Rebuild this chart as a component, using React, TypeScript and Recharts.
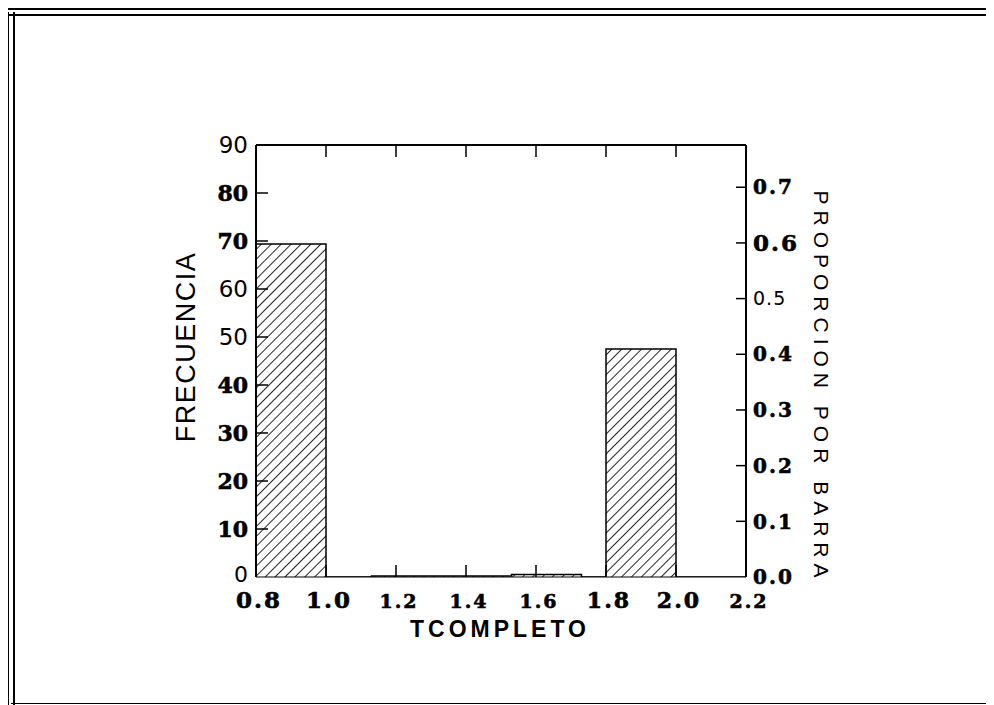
import { ComposedChart, Area, Line, XAxis, YAxis } from "recharts";

// Histogram of TCOMPLETO: left edge of each step and its frequency
const binStarts = [0.8, 1.0, 1.13, 1.53, 1.73, 1.8, 2.0, 2.2];
const frequencies = [69.4, 0, 0.2, 0.5, 0, 47.5, 0, 0];
const totalObs = 116;

const xTicks = [0.8, 1.0, 1.2, 1.4, 1.6, 1.8, 2.0, 2.2];
const topTicks = [1.0, 1.2, 1.4, 1.6, 1.8, 2.0];
const freqTicks = [0, 10, 20, 30, 40, 50, 60, 70, 80, 90];
const propTicks = [0, 0.1, 0.2, 0.3, 0.4, 0.5, 0.6, 0.7];

const chartData = binStarts.map((x, i) => ({
  x,
  f: frequencies[i],
  p: frequencies[i] / totalObs,
}));

// ── fonts of the scanned page (mixed typefaces) ──
const SERIF = "'DejaVu Serif', serif";
const SANS = "'DejaVu Sans', sans-serif";
const TITLE = "'Liberation Sans', Arial, sans-serif";

const sansFreq = [90, 60, 50, 0];
const sansProp = [0.5];
const bigX = [0.8, 1.0];
const midX = [1.8, 2.0];

function FreqTick({ x, y, payload }: any) {
  const v = payload.value;
  const sans = sansFreq.includes(v);
  const fs = v === 0 ? 22 : sans ? 23 : 22;
  const inner = v !== 0 && v !== 90;
  // the zero label sits a little high so it clears the x labels
  const baseline = v === 0 ? y + 5 : y + fs * 0.36;
  return (
    <g>
      {inner && <line x1={x} y1={y} x2={x + 12} y2={y} stroke="#000" strokeWidth={1.5} />}
      <text
        x={x - 8}
        y={baseline}
        textAnchor="end"
        fontFamily={sans ? SANS : SERIF}
        fontWeight={sans ? 400 : 700}
        fontSize={fs}
        fill="#000"
        stroke={sans ? "none" : "#000"}
        strokeWidth={0.6}
      >
        {v}
      </text>
    </g>
  );
}

function PropTick({ x, y, payload }: any) {
  const v = payload.value;
  const sans = sansProp.includes(v);
  const fs = sans ? 19 : v === 0.6 ? 23 : 20;
  return (
    <g>
      {v !== 0 && <line x1={x - 10} y1={y} x2={x} y2={y} stroke="#000" strokeWidth={1.5} />}
      <text
        x={x + 7}
        y={y + fs * 0.36}
        textAnchor="start"
        fontFamily={sans ? SANS : SERIF}
        fontWeight={sans ? 400 : 700}
        fontSize={fs}
        letterSpacing={sans ? 1 : 2}
        fill="#000"
        stroke={sans ? "none" : "#000"}
        strokeWidth={0.6}
      >
        {v.toFixed(1)}
      </text>
    </g>
  );
}

function BottomTick({ x, y, payload }: any) {
  const v = payload.value;
  const fs = bigX.includes(v) ? 23 : midX.includes(v) ? 22 : 19;
  const inner = v > 0.85 && v < 2.15;
  return (
    <g>
      {inner && <line x1={x} y1={y} x2={x} y2={y - 12} stroke="#000" strokeWidth={1.5} />}
      <text
        x={x + 3}
        y={y + 31}
        textAnchor="middle"
        fontFamily={SERIF}
        fontWeight={700}
        fontSize={fs}
        letterSpacing={2}
        fill="#000"
        stroke="#000"
        strokeWidth={0.6}
      >
        {v.toFixed(1)}
      </text>
    </g>
  );
}

function TopTick({ x, y }: any) {
  return <line x1={x} y1={y} x2={x} y2={y + 12} stroke="#000" strokeWidth={1.5} />;
}

function FrameLine({ l, t, w, h }: { l: number; t: number; w: number; h: number }) {
  return <div style={{ position: "absolute", left: l, top: t, width: w, height: h, background: "#000" }} />;
}

export default function App() {
  return (
    <div style={{ position: "relative", width: 994, height: 705, margin: "-8px 0 0 -8px", background: "#fff", overflow: "hidden" }}>
      {/* scanned page border */}
      <FrameLine l={5} t={8} w={989} h={2} />
      <FrameLine l={7} t={14} w={987} h={2} />
      <FrameLine l={7} t={12} w={2} h={693} />
      <FrameLine l={13} t={12} w={2} h={693} />
      <FrameLine l={989} t={5} w={3} h={700} />
      <FrameLine l={11} t={703} w={983} h={1} />

      <div style={{ position: "absolute", left: 0, top: 0 }}>
        <ComposedChart
          width={994}
          height={705}
          data={chartData}
          margin={{ top: 135, right: 158, bottom: 68, left: 166 }}
        >
          <defs>
            <pattern id="hatch" patternUnits="userSpaceOnUse" width={7} height={7} patternTransform="rotate(45)">
              <line x1={0} y1={0} x2={0} y2={7} stroke="#000" strokeWidth={1.7} />
            </pattern>
          </defs>
          <XAxis
            xAxisId="b"
            dataKey="x"
            type="number"
            domain={[0.8, 2.2]}
            allowDataOverflow
            ticks={xTicks}
            interval={0}
            height={60}
            tickSize={0}
            tickMargin={0}
            tickLine={false}
            axisLine={{ stroke: "#000", strokeWidth: 1.2 }}
            tick={<BottomTick />}
            label={(props: any) => {
              const vb = props.viewBox;
              return (
                <text
                  x={vb.x + vb.width / 2 - 1}
                  y={vb.y + 60}
                  textAnchor="middle"
                  fontFamily={TITLE}
                  fontWeight={700}
                  fontSize={23}
                  letterSpacing={4}
                  fill="#000"
                >
                  TCOMPLETO
                </text>
              );
            }}
          />
          <XAxis
            xAxisId="t"
            dataKey="x"
            type="number"
            orientation="top"
            domain={[0.8, 2.2]}
            allowDataOverflow
            ticks={topTicks}
            interval={0}
            height={10}
            tickSize={0}
            tickMargin={0}
            tickLine={false}
            axisLine={{ stroke: "#000", strokeWidth: 2 }}
            tick={<TopTick />}
          />
          <YAxis
            yAxisId="f"
            type="number"
            domain={[0, 90]}
            allowDataOverflow
            ticks={freqTicks}
            interval={0}
            width={90}
            tickSize={0}
            tickMargin={0}
            tickLine={false}
            axisLine={{ stroke: "#000", strokeWidth: 2 }}
            tick={<FreqTick />}
            label={(props: any) => {
              const vb = props.viewBox;
              const cx = vb.x + 29;
              const cy = vb.y + vb.height / 2 - 14;
              return (
                <text
                  x={cx}
                  y={cy}
                  transform={`rotate(-90 ${cx} ${cy})`}
                  textAnchor="middle"
                  fontFamily={TITLE}
                  fontSize={27}
                  letterSpacing={1.5}
                  fill="#000"
                >
                  FRECUENCIA
                </text>
              );
            }}
          />
          <YAxis
            yAxisId="p"
            orientation="right"
            type="number"
            domain={[0, 90 / totalObs]}
            allowDataOverflow
            ticks={propTicks}
            interval={0}
            width={90}
            tickSize={0}
            tickMargin={0}
            tickLine={false}
            axisLine={{ stroke: "#000", strokeWidth: 2 }}
            tick={<PropTick />}
            label={(props: any) => {
              const vb = props.viewBox;
              const cx = vb.x + 68;
              const cy = vb.y + vb.height / 2 + 26;
              return (
                <text
                  x={cx}
                  y={cy}
                  transform={`rotate(90 ${cx} ${cy})`}
                  textAnchor="middle"
                  fontFamily={TITLE}
                  fontSize={21}
                  letterSpacing={6}
                  fill="#000"
                >
                  PROPORCION POR BARRA
                </text>
              );
            }}
          />
          <Area
            xAxisId="b"
            yAxisId="f"
            type="stepAfter"
            dataKey="f"
            stroke="#000"
            strokeWidth={1.5}
            fill="url(#hatch)"
            fillOpacity={1}
            dot={false}
            activeDot={false}
            isAnimationActive={false}
          />
          <Line
            xAxisId="t"
            yAxisId="p"
            type="stepAfter"
            dataKey="p"
            stroke="none"
            dot={false}
            activeDot={false}
            isAnimationActive={false}
          />
        </ComposedChart>
      </div>
    </div>
  );
}
